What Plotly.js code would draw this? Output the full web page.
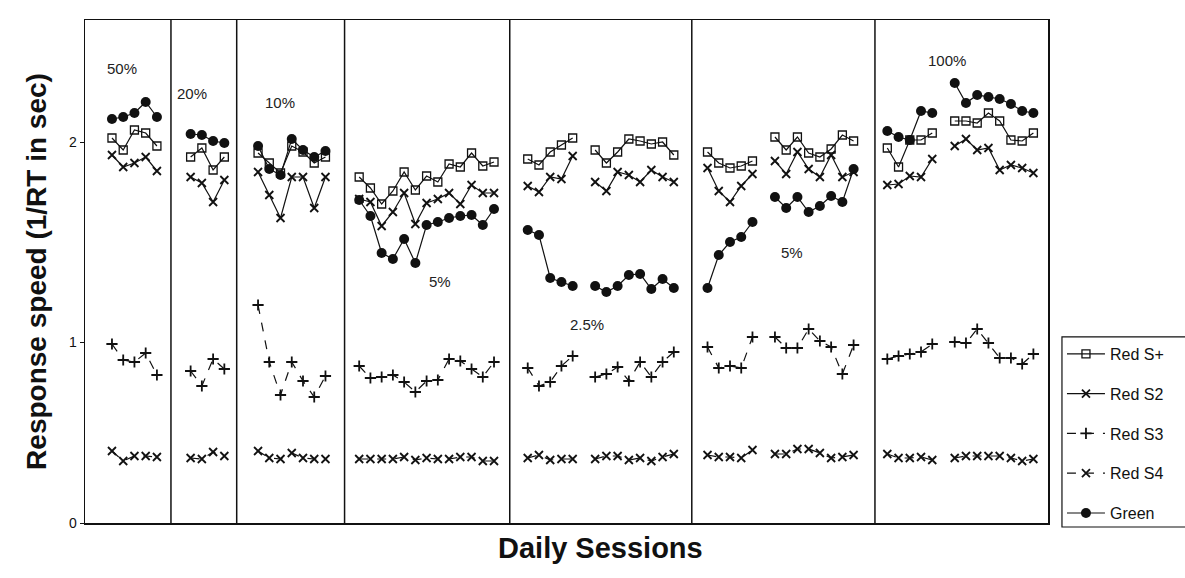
<!DOCTYPE html>
<html>
<head>
<meta charset="utf-8">
<script src="https://cdn.plot.ly/plotly-3.0.1.min.js"></script>
<style>
html,body{margin:0;padding:0;background:#fff;}
#chart{width:1185px;height:578px;}
</style>
</head>
<body>
<div id="chart"></div>
<script>
// Session index of each plotted day (gaps = sessions without data / phase changes)
const sessions = [0,1,2,3,4, 7,8,9,10, 13,14,15,16,17,18,19,
  22,23,24,25,26,27,28,29,30,31,32,33,34,
  37,38,39,40,41, 43,44,45,46,47,48,49,50,
  53,54,55,56,57, 59,60,61,62,63,64,65,66,
  69,70,71,72,73, 75,76,77,78,79,80,81,82];

const redSplus = [2.02,1.96,2.06,2.045,1.98,
  1.925,1.97,1.86,1.925,
  1.945,1.895,1.845,1.98,1.95,1.895,1.925,
  1.825,1.77,1.69,1.755,1.85,1.76,1.83,1.80,1.89,1.875,1.945,1.88,1.90,
  1.915,1.885,1.95,1.985,2.02,
  1.96,1.895,1.95,2.015,2.005,1.99,2.00,1.935,
  1.95,1.895,1.87,1.88,1.905,
  2.025,1.96,2.025,1.945,1.925,1.965,2.035,2.005,
  1.97,1.875,2.01,2.01,2.045,
  2.105,2.105,2.095,2.145,2.105,2.01,2.005,2.045];

const redS2 = [1.935,1.875,1.895,1.925,1.855,
  1.825,1.795,1.70,1.81,
  1.85,1.735,1.62,1.825,1.825,1.67,1.825,
  1.715,1.70,1.58,1.65,1.745,1.59,1.695,1.715,1.745,1.69,1.785,1.745,1.745,
  1.78,1.75,1.825,1.815,1.93,
  1.80,1.755,1.85,1.835,1.80,1.86,1.825,1.80,
  1.87,1.755,1.70,1.78,1.84,
  1.905,1.84,1.95,1.865,1.825,1.935,1.825,1.85,
  1.785,1.79,1.83,1.825,1.915,
  1.98,2.015,1.96,1.97,1.86,1.885,1.87,1.845];

const redS3 = [0.99,0.91,0.90,0.945,0.835,
  0.855,0.78,0.915,0.865,
  1.185,0.90,0.735,0.90,0.805,0.725,0.83,
  0.88,0.82,0.825,0.835,0.80,0.75,0.805,0.81,0.915,0.905,0.865,0.825,0.90,
  0.87,0.78,0.80,0.88,0.93,
  0.825,0.84,0.875,0.805,0.90,0.825,0.90,0.95,
  0.975,0.87,0.88,0.87,1.025,
  1.025,0.97,0.97,1.065,1.005,0.975,0.84,0.985,
  0.915,0.93,0.94,0.95,0.99,
  1.00,0.995,1.065,0.995,0.92,0.92,0.89,0.94];

const redS4 = [0.455,0.405,0.43,0.43,0.425,
  0.42,0.415,0.45,0.43,
  0.455,0.42,0.415,0.445,0.42,0.415,0.415,
  0.415,0.415,0.415,0.415,0.425,0.41,0.42,0.415,0.415,0.425,0.425,0.405,0.405,
  0.42,0.435,0.41,0.415,0.415,
  0.415,0.43,0.43,0.41,0.42,0.405,0.425,0.44,
  0.435,0.425,0.425,0.42,0.46,
  0.44,0.44,0.465,0.465,0.445,0.42,0.425,0.435,
  0.44,0.42,0.42,0.425,0.41,
  0.42,0.43,0.43,0.43,0.43,0.42,0.405,0.415];

const green = [2.115,2.125,2.145,2.20,2.125,
  2.04,2.035,2.005,1.995,
  1.98,1.865,1.835,2.015,1.96,1.925,1.955,
  1.71,1.63,1.445,1.415,1.515,1.395,1.585,1.60,1.62,1.63,1.635,1.585,1.665,
  1.56,1.535,1.32,1.30,1.28,
  1.28,1.25,1.28,1.335,1.34,1.265,1.315,1.27,
  1.27,1.435,1.50,1.525,1.60,
  1.725,1.67,1.725,1.65,1.68,1.73,1.70,1.865,
  2.055,2.025,2.01,2.155,2.145,
  2.295,2.195,2.235,2.225,2.215,2.19,2.155,2.145];

// phase boundaries (between sessions) and phase labels
const phaseBounds = [5.25, 11.1, 20.7, 35.4, 51.6, 67.9];
const phaseLabels = ['50%','20%','10%','5%','2.5%','5%','100%'];
const phaseLabelX = [0.9, 7.1, 14.95, 29.2, 42.3, 60.5, 74.3];
const phaseLabelY = [2.37, 2.245, 2.2, 1.305, 1.09, 1.45, 2.41];

const seriesNames = ['Red S+','Red S2','Red S3','Red S4','Green'];
const yTickText = ['0','1','2'];
const xTitle = 'Daily Sessions';
const yTitle = 'Response speed (1/RT in sec)';

function withGaps(xs, ys){
  const X=[], Y=[];
  for(let i=0;i<xs.length;i++){
    if(i>0 && xs[i]-xs[i-1]>1){ X.push((xs[i]+xs[i-1])/2); Y.push(null); }
    X.push(xs[i]); Y.push(ys[i]);
  }
  return {x:X, y:Y};
}

const styles = [
  {symbol:'square-open', size:8, lw:1.2, dash:'solid', mlw:1.3},
  {symbol:'x-thin-open', size:8, lw:1.2, dash:'solid', mlw:1.8},
  {symbol:'cross-thin-open', size:8, lw:1.2, dash:'dash', mlw:1.8},
  {symbol:'x-thin-open', size:8, lw:1.2, dash:'dash', mlw:1.8},
  {symbol:'circle', size:10, lw:1.2, dash:'solid', mlw:0}
];
const data = [redSplus, redS2, redS3, redS4, green];

const traces = data.map((ys,i)=>{
  const g = withGaps(sessions, ys);
  const s = styles[i];
  return {
    type:'scatter', mode:'lines+markers', name:seriesNames[i],
    x:g.x, y:g.y, legendgroup:'g'+i,
    line:{color:'#111', width:s.lw, dash:s.dash},
    marker:{symbol:s.symbol, size:s.size, color:'#111', line:{color:'#111', width:s.mlw}}
  };
});

const shapes = phaseBounds.map(b=>({
  type:'line', xref:'x', yref:'paper', x0:b, x1:b, y0:0, y1:1,
  line:{color:'#111', width:1.5}
}));
// legend frame (runs off the right edge as in the scan)
shapes.push({type:'rect', xref:'paper', yref:'paper', x0:1.0145, x1:1.3, y0:-0.008, y1:0.37,
  line:{color:'#111', width:1.2}, fillcolor:'rgba(0,0,0,0)'});

const annotations = phaseLabels.map((t,i)=>({
  text:t, x:phaseLabelX[i], y:phaseLabelY[i], xref:'x', yref:'y',
  showarrow:false, font:{family:'Liberation Sans, Arial, sans-serif', size:15, color:'#222'}
}));
annotations.push({text:'<b>'+xTitle+'</b>', xref:'paper', yref:'paper', x:0.535, y:-0.05,
  xanchor:'center', yanchor:'middle', showarrow:false,
  font:{family:'Liberation Sans, Arial, sans-serif', size:29, color:'#111'}});

const yBottom = 0.095;
const layout = {
  width:1185, height:578,
  margin:{l:85, r:137, t:20, b:55},
  paper_bgcolor:'#fff', plot_bgcolor:'#fff',
  showlegend:true,
  font:{family:'Liberation Sans, Arial, sans-serif', color:'#111'},
  xaxis:{range:[-2.4, 83.3], showgrid:false, zeroline:false, showticklabels:false, ticks:'',
    showline:true, linecolor:'#111', linewidth:1.5, mirror:true},
  yaxis:{range:[yBottom, 2.61], showgrid:false, zeroline:false,
    tickvals:[yBottom, 1, 2], ticktext:yTickText, ticks:'outside', ticklen:4, tickcolor:'#111',
    tickfont:{size:14}, showline:true, linecolor:'#111', linewidth:1.5, mirror:true,
    title:{text:'<b>'+yTitle+'</b>', font:{size:28, family:'Liberation Sans, Arial, sans-serif'}, standoff:14}},
  legend:{x:1.0145, y:0.37, xanchor:'left', yanchor:'top', borderwidth:0,
    bgcolor:'rgba(0,0,0,0)', font:{size:16}, tracegroupgap:16, itemwidth:38},
  shapes:shapes, annotations:annotations
};

Plotly.newPlot('chart', traces, layout, {displayModeBar:false, staticPlot:true});
</script>
</body>
</html>
